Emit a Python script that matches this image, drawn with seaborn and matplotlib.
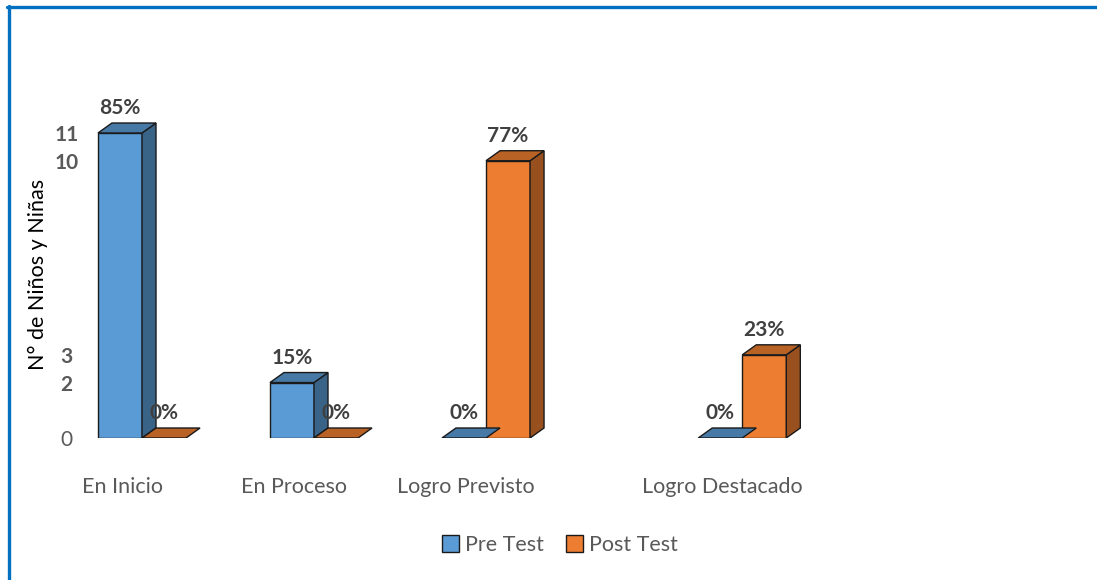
import numpy as np
import pandas as pd
import seaborn as sns
import matplotlib.pyplot as plt
from matplotlib.patches import Polygon, Patch
from matplotlib.lines import Line2D
from matplotlib.colors import to_rgb

# data
categories = ["En Inicio", "En Proceso", "Logro Previsto", "Logro Destacado"]
pre_test = [11, 2, 0, 0]
post_test = [0, 0, 10, 3]
pre_pct = ["85%", "15%", "0%", "0%"]
post_pct = ["0%", "0%", "77%", "23%"]
y_ticks = [0, 2, 3, 10, 11]
series = ["Pre Test", "Post Test"]

# uneven category spacing, as in the original
cat_pos = [0, 1, 2, 3.49]

df = pd.DataFrame({
    "pos": cat_pos * 2,
    "grupo": [series[0]] * 4 + [series[1]] * 4,
    "n": pre_test + post_test,
    "pct": pre_pct + post_pct,
})

colors = {"Pre Test": "#5B9BD5", "Post Test": "#ED7D31"}

sns.set_style("white")
plt.rcParams["font.family"] = ["Lato", "DejaVu Sans"]

W, H = 1097, 580
fig = plt.figure(figsize=(W / 100, H / 100), dpi=100)
ax_l, ax_r, ax_b = 90, 1000, 438
ax_t = 438 - 12 * (305 / 11)
ax = fig.add_axes([ax_l / W, 1 - ax_b / H, (ax_r - ax_l) / W, (ax_b - ax_t) / H])

sns.barplot(data=df, x="pos", y="n", hue="grupo", native_scale=True,
            width=0.512, palette=colors, saturation=1, edgecolor="#1a1a1a",
            linewidth=1, errorbar=None, legend=False, ax=ax)

px_x = 172.0
xmin = -(142 - ax_l) / px_x
ax.set_xlim(xmin, xmin + (ax_r - ax_l) / px_x)
ax.set_ylim(0, 12)

# pseudo 3D depth (pixels -> data units)
dx = 14 / px_x
dy = 10 / (305 / 11)

for p in list(ax.patches):
    x0, w, h = p.get_x(), p.get_width(), p.get_height()
    fc = np.array(to_rgb(p.get_facecolor()))
    side = fc * 0.64
    top = fc * 0.78
    ec = "#1a1a1a"
    if h > 0:
        ax.add_patch(Polygon([(x0 + w, 0), (x0 + w + dx, dy), (x0 + w + dx, h + dy), (x0 + w, h)],
                             closed=True, fc=side, ec=ec, lw=1, zorder=p.get_zorder()))
    ax.add_patch(Polygon([(x0, h), (x0 + dx, h + dy), (x0 + w + dx, h + dy), (x0 + w, h)],
                         closed=True, fc=top, ec=ec, lw=1, zorder=p.get_zorder()))

# percentage labels over each bar
for i, row in df.iterrows():
    off = -0.128 if row["grupo"] == series[0] else 0.128
    ax.annotate(row["pct"], (row["pos"] + off, row["n"]), xytext=(0, 18),
                textcoords="offset points", ha="center", va="center",
                fontsize=15, fontweight="bold", color="#404040",
                annotation_clip=False)

ax.set_xticks([p - 0.115 for p in cat_pos])
ax.set_xticklabels(categories, fontsize=15.5, color="#595959")
ax.tick_params(axis="x", length=0, pad=28)

ax.set_yticks(y_ticks)
ax.set_yticklabels([str(t) for t in y_ticks], fontsize=15, color="#595959", ha="center",
                   va="bottom")
for lab, t in zip(ax.get_yticklabels(), y_ticks):
    lab.set_fontweight("normal" if t == 0 else "bold")
ax.tick_params(axis="y", length=0, pad=17)
for lab in ax.get_yticklabels():
    lab.set_va("center_baseline")

ax.set_xlabel("")
ax.set_ylabel("")
sns.despine(ax=ax, left=True, bottom=True)
ax.grid(False)

fig.text(38 / W, 1 - 274 / H, "N° de Niños y Niñas", rotation=90,
         ha="center", va="center", fontsize=15.5, color="black")

handles = [Patch(facecolor=colors[s], edgecolor="#1a1a1a", label=s) for s in series]
fig.legend(handles=handles, loc="center", bbox_to_anchor=(560 / W, 1 - 545 / H),
           ncol=2, frameon=False, fontsize=15.5, handlelength=0.8, handleheight=0.8,
           handletextpad=0.3, columnspacing=1.0, labelcolor="#595959")

# blue frame (top and left)
fig.add_artist(Line2D([7 / W, 1], [1 - 6.5 / H, 1 - 6.5 / H], color="#0070C0", lw=2.4))
fig.add_artist(Line2D([8.5 / W, 8.5 / W], [0, 1 - 5.5 / H], color="#0070C0", lw=2.4))

fig.savefig("out.png", dpi=100)
